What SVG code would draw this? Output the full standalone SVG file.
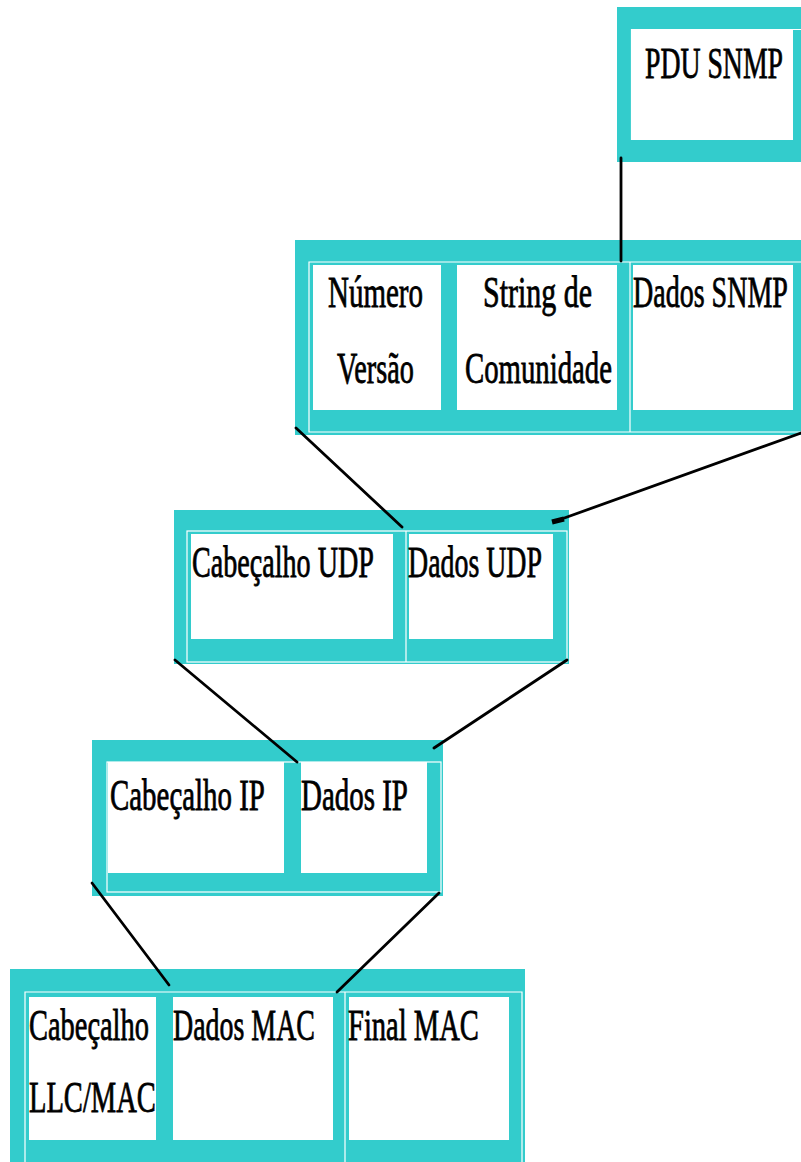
<svg xmlns="http://www.w3.org/2000/svg" width="801" height="1162" viewBox="0 0 801 1162">
  <style>
    .frame { fill: #33cccc; }
    .cell { fill: #ffffff; }
    .rule { fill: none; stroke: #ffffff; stroke-width: 1.2; }
    .lbl { font-family: "Liberation Serif", "Times New Roman", serif; font-size: 44px; fill: #000; stroke: #000; stroke-width: 0.8; }
    .wire { fill: none; stroke: #000; stroke-width: 2.8; stroke-linecap: round; }
    .tip { fill: none; stroke: #000; stroke-width: 5; stroke-linecap: butt; }
  </style>

  <!-- SNMP PDU -->
  <g id="pdu-snmp">
    <rect class="frame" x="617" y="7" width="184" height="155"/>
    <rect class="cell" x="632" y="30" width="161" height="110"/>
    <path class="rule" d="M801 29.5 H631.5 V140"/>
    <text class="lbl" transform="matrix(0.631 0 0 1 645 78)">PDU SNMP</text>
  </g>

  <!-- SNMP message -->
  <g id="snmp-message">
    <rect class="frame" x="295" y="240" width="506" height="195"/>
    <path class="rule" d="M801 262 H309 V432 H801 M630 262 V432"/>
    <rect class="cell" x="313" y="265" width="128" height="145"/>
    <rect class="cell" x="457" y="265" width="160" height="145"/>
    <rect class="cell" x="633" y="265" width="160" height="145"/>
    <text class="lbl" transform="matrix(0.659 0 0 1 328 307)">Número</text>
    <text class="lbl" transform="matrix(0.642 0 0 1 337 383)">Versão</text>
    <text class="lbl" transform="matrix(0.681 0 0 1 483 307)">String de</text>
    <text class="lbl" transform="matrix(0.654 0 0 1 465 383)">Comunidade</text>
    <text class="lbl" transform="matrix(0.637 0 0 1 633 307)">Dados SNMP</text>
  </g>

  <!-- UDP datagram -->
  <g id="udp">
    <rect class="frame" x="174" y="510" width="395" height="154"/>
    <rect class="rule" x="187" y="531" width="380" height="131"/>
    <path class="rule" d="M406 531 V662"/>
    <rect class="cell" x="191" y="534" width="202" height="105"/>
    <rect class="cell" x="409" y="534" width="144" height="105"/>
    <text class="lbl" transform="matrix(0.639 0 0 1 192 577)">Cabeçalho UDP</text>
    <text class="lbl" transform="matrix(0.634 0 0 1 408 577)">Dados UDP</text>
  </g>

  <!-- IP packet -->
  <g id="ip">
    <rect class="frame" x="92" y="740" width="351" height="156"/>
    <rect class="rule" x="107" y="762" width="334" height="130"/>
    <rect class="cell" x="108" y="762" width="176" height="111"/>
    <rect class="cell" x="301" y="762" width="126" height="111"/>
    <text class="lbl" transform="matrix(0.657 0 0 1 110 810)">Cabeçalho IP</text>
    <text class="lbl" transform="matrix(0.658 0 0 1 301 810)">Dados IP</text>
  </g>

  <!-- MAC frame -->
  <g id="mac">
    <rect class="frame" x="10" y="969" width="515" height="193"/>
    <path class="rule" d="M25 1162 V992 H522 V1162 M345 992 V1162"/>
    <rect class="cell" x="29" y="997" width="127" height="143"/>
    <rect class="cell" x="173" y="997" width="160" height="143"/>
    <rect class="cell" x="349" y="997" width="160" height="143"/>
    <text class="lbl" transform="matrix(0.646 0 0 1 29 1040)">Cabeçalho</text>
    <text class="lbl" transform="matrix(0.649 0 0 1 29 1112)">LLC/MAC</text>
    <text class="lbl" transform="matrix(0.635 0 0 1 173 1040)">Dados MAC</text>
    <text class="lbl" transform="matrix(0.649 0 0 1 348 1040)">Final MAC</text>
  </g>

  <!-- encapsulation links -->
  <g id="connectors">
    <path class="wire" d="M621 158 V261"/>
    <path class="wire" d="M296 428 L402 527"/>
    <path class="wire" d="M801 433 L556 521"/>
    <path class="tip" d="M552 522 L564 519"/>
    <path class="wire" d="M175 660 L297 762"/>
    <path class="wire" d="M567 660 L434 748"/>
    <path class="wire" d="M92 883 L169 985"/>
    <path class="wire" d="M439 893 L337 992"/>
  </g>
</svg>
